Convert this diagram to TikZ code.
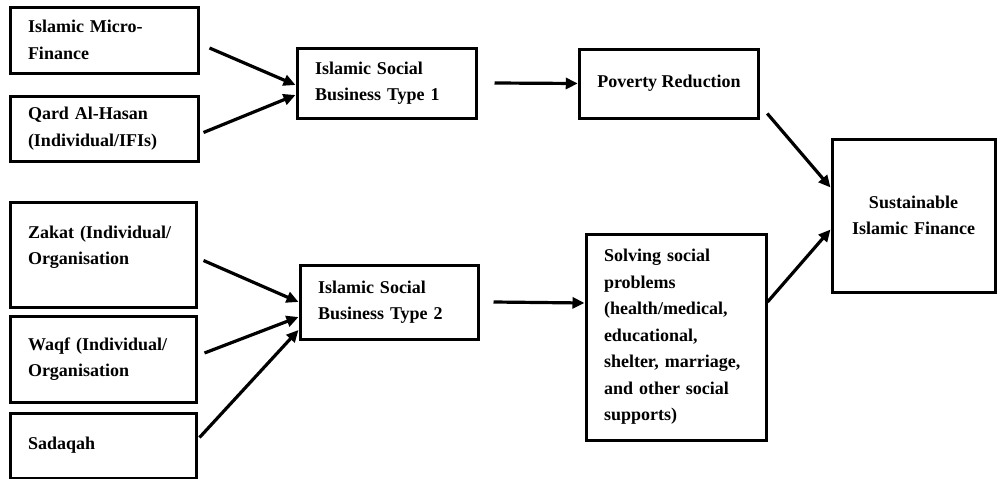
\documentclass[tikz,border=0pt]{standalone}
\usepackage{fontspec}
\setmainfont{Liberation Serif}
\usetikzlibrary{arrows.meta,positioning}

\begin{document}
\begin{tikzpicture}[
        x=1pt,
        y=-1pt,
        box/.style={draw, line width=3pt, align=left, inner xsep=18pt, inner ysep=0pt,
                    font=\fontsize{18}{26.5}\selectfont\bfseries},
        link/.style={-{Triangle[length=12pt, width=11pt]}, line width=3.2pt}
    ]
        \useasboundingbox (0,0) rectangle (1004,479);

        \node[box, minimum width=188pt, minimum height=66pt, text width=152pt] (mf) at (104,40)
            {Islamic Micro-\\Finance};
        \node[box, minimum width=188pt, minimum height=65pt, text width=152pt] (qard) at (104,128.5)
            {Qard Al-Hasan\\(Individual/IFIs)};
        \node[box, minimum width=186pt, minimum height=105pt, text width=150pt, text depth=45pt] (zakat) at (103,254.5)
            {Zakat (Individual/\\Organisation};
        \node[box, minimum width=186pt, minimum height=86pt, text width=150pt] (waqf) at (103,359)
            {Waqf (Individual/\\Organisation};
        \node[box, minimum width=186pt, minimum height=65pt, text width=150pt] (sadaqah) at (103,445.5)
            {Sadaqah};

        \node[box, minimum width=179pt, minimum height=70pt, text width=143pt] (isb1) at (386.5,83)
            {Islamic Social\\Business Type 1};
        \node[box, minimum width=178pt, minimum height=74pt, text width=142pt] (isb2) at (389,302)
            {Islamic Social\\Business Type 2};

        \node[box, minimum width=178pt, minimum height=69pt] (pov) at (669,83.5)
            {Poverty Reduction};
        \node[box, minimum width=180pt, minimum height=206pt, text width=144pt] (solve) at (676,337)
            {Solving social\\problems\\(health/medical,\\educational,\\shelter, marriage,\\and other social\\supports)};
        \node[box, align=center, minimum width=163pt, minimum height=153pt, text width=127pt] (sif) at (913.5,215.5)
            {Sustainable\\Islamic Finance};

        \draw[link] ([shift={(10,8)}]mf.east) -- ([yshift=-2pt]isb1.west);
        \draw[link] ([shift={(4,4)}]qard.east) -- ([yshift=-12pt]isb1.west);
        \draw[link] ([shift={(6,6)}]zakat.east) -- (isb2.west);
        \draw[link] ([shift={(7,-6)}]waqf.east) -- ([yshift=-15pt]isb2.west);
        \draw[link] ([shift={(2,-8)}]sadaqah.east) -- ([yshift=-28pt]isb2.west);

        \draw[link] ([xshift=17pt]isb1.east) -- (pov.west);
        \draw[link] ([xshift=14pt]isb2.east) -- ([yshift=34pt]solve.west);

        \draw[link] ([shift={(7,-6)}]pov.south east) -- ([yshift=28pt]sif.west);
        \draw[link] ([yshift=35pt]solve.east) -- ([yshift=-14pt]sif.west);
    \end{tikzpicture}
\end{document}
